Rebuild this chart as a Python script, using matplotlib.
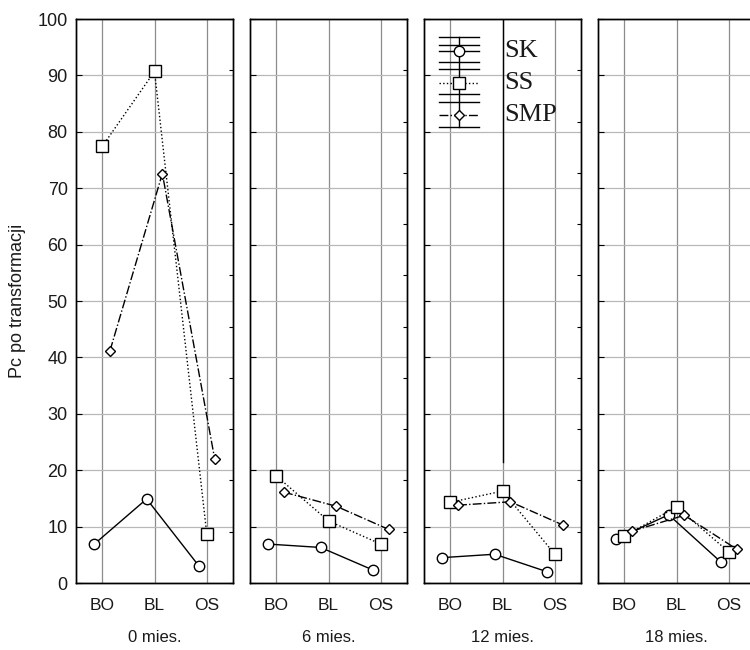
import numpy as np
import matplotlib
matplotlib.use("Agg")
from matplotlib import pyplot as plt

# categories and time points
groups = ['BO', 'BL', 'OS']
periods = ['0 mies.', '6 mies.', '12 mies.', '18 mies.']

# Pc values per period (rows) and group (columns)
sk = [[6.9, 14.9, 3.0],
      [6.9, 6.3, 2.3],
      [4.5, 5.1, 2.0],
      [7.8, 12.1, 3.7]]
ss = [[77.4, 90.7, 8.6],
      [19.0, 11.0, 6.9],
      [14.3, 16.3, 5.1],
      [8.3, 13.5, 5.5]]
smp = [[41.2, 72.6, 22.0],
       [16.1, 13.6, 9.5],
       [13.8, 14.4, 10.3],
       [9.2, 12.0, 6.0]]

plt.rcParams['font.family'] = ['Liberation Sans', 'DejaVu Sans']

fig = plt.figure(figsize=(7.5, 6.5), dpi=100)

x = np.arange(1, 4)
left0 = 76 / 750
step = 174 / 750
w = 157 / 750
bottom = 1 - 583 / 650
h = 564 / 650

mk = dict(markerfacecolor='white', markeredgecolor='black', markeredgewidth=1.0, color='black', linewidth=1.0)

axes = []
for i in range(4):
    ax = fig.add_axes([left0 + i * step, bottom, w, h])
    axes.append(ax)
    ax.set_xlim(0.5, 3.5)
    ax.set_ylim(0, 100)
    ax.set_axisbelow(True)
    ax.grid(True, axis='x', color='#8c8c8c', linewidth=0.9)
    ax.grid(True, axis='y', color='#b8b8b8', linewidth=0.9)

    ax.plot(x - 0.15, sk[i], '-', marker='o', markersize=7.5, zorder=3, **mk)
    ax.plot(x, ss[i], ':', marker='s', markersize=8, zorder=3, **mk)
    ax.plot(x + 0.15, smp[i], '-.', marker='D', markersize=5.5, zorder=3, **mk)

    ax.set_xticks(x)
    ax.set_xticklabels(groups, fontsize=12.5, color='#1a1a1a')
    ax.set_yticks(np.arange(0, 101, 10))
    ax.tick_params(axis='x', length=0, pad=11)
    ax.tick_params(axis='y', direction='in', length=4, pad=6, labelsize=13,
                   labelcolor='#1a1a1a')
    if i > 0:
        ax.set_yticklabels([])
    for sp in ax.spines.values():
        sp.set_linewidth(1.0)
    ax.text(0.5, -0.0975, periods[i], transform=ax.transAxes, ha='center',
            va='center', fontsize=12, color='#1a1a1a')

    # extra ticks on the right edge
    ax2 = ax.twinx()
    ax2.set_ylim(0, 100)
    ax2.set_yticks(np.linspace(0, 100, 12))
    ax2.set_yticklabels([])
    ax2.tick_params(axis='y', direction='in', length=3)
    for sp in ax2.spines.values():
        sp.set_linewidth(1.0)

axes[0].set_ylabel('Pc po transformacji', fontsize=13, color='#1a1a1a', labelpad=8)

# legend drawn by hand in the third panel
lg = axes[2]
tr = lg.transAxes
x0, x1, xm = 0.095, 0.348, 0.224
for yy in [0.9686, 0.954, 0.9243, 0.9108, 0.867, 0.8534, 0.808]:
    lg.plot([x0, x1], [yy, yy], color='black', lw=1.0, transform=tr, clip_on=False, zorder=4)
lg.plot([xm, xm], [0.808, 0.9686], color='black', lw=1.0, transform=tr, clip_on=False, zorder=4)
lg.axvline(2, ymin=0.215, ymax=1, color='black', lw=1.0, zorder=2)
entries = [('SK', '-', 'o', 7.5, 0.9438),
           ('SS', ':', 's', 8, 0.886),
           ('SMP', '-.', 'D', 5.5, 0.8298)]
for name, ls, m, ms, yy in entries:
    lg.plot([x0, x1], [yy, yy], linestyle=ls, color='black', lw=1.0, transform=tr,
            clip_on=False, zorder=5)
    lg.plot([xm], [yy], marker=m, markersize=ms, markerfacecolor='white',
            markeredgecolor='black', markeredgewidth=1.0, transform=tr,
            clip_on=False, zorder=6)
    lg.text(0.513, yy, name, transform=tr, ha='left', va='center', fontsize=19,
            family=['Liberation Serif', 'DejaVu Serif'], color='#1a1a1a', zorder=6)

fig.savefig('out.png', dpi=100)
